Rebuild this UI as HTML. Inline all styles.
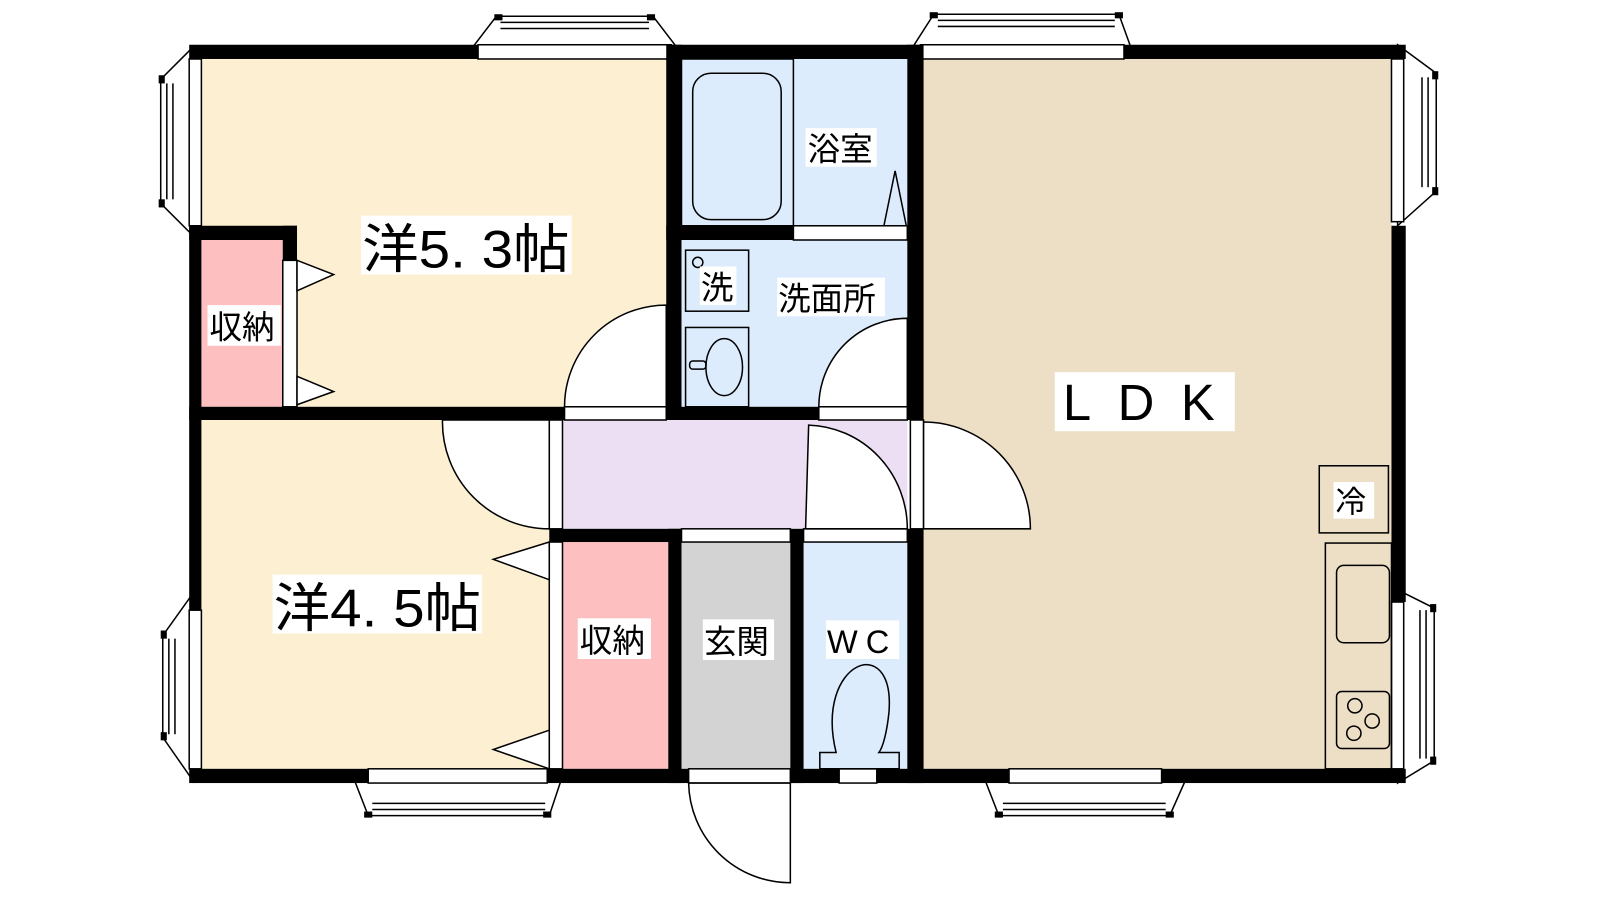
<!DOCTYPE html>
<html><head><meta charset="utf-8"><style>
html,body{margin:0;padding:0;background:#fff;width:1600px;height:900px;overflow:hidden}
svg{display:block}
text{font-family:"Liberation Sans","Noto Sans CJK JP",sans-serif;fill:#000}
</style></head><body>
<svg width="1600" height="900" viewBox="0 0 1573 885" preserveAspectRatio="none" xmlns="http://www.w3.org/2000/svg">
<rect x="198" y="58" width="459" height="342" fill="#fdf0d2"/>
<rect x="198" y="236" width="80" height="164" fill="#fdbfbf"/>
<rect x="198" y="413" width="342" height="343" fill="#fdf0d2"/>
<rect x="670" y="58" width="222" height="342" fill="#dcecfc"/>
<rect x="553" y="413" width="339" height="107" fill="#ecdff4"/>
<rect x="553" y="533" width="104" height="223" fill="#fdbfbf"/>
<rect x="670" y="533" width="107" height="223" fill="#d3d3d3"/>
<rect x="790" y="533" width="102" height="223" fill="#dcecfc"/>
<rect x="908" y="58" width="460" height="698" fill="#eddfc5"/>

<g fill="#fff" stroke="#000" stroke-width="1.5">
<polygon points="462,50 488,16 642,16 668,50"/>
<line x1="492" y1="22" x2="638" y2="22"/><line x1="492" y1="28" x2="638" y2="28"/>
<rect x="470" y="44" width="190" height="14"/>
<polygon points="895,50 918,14 1100,14 1113,50"/>
<line x1="922" y1="20" x2="1096" y2="20"/><line x1="922" y1="26" x2="1096" y2="26"/>
<rect x="905" y="44" width="200" height="14"/>
<polygon points="190,46 158,78 158,200 190,232"/>
<line x1="164" y1="82" x2="164" y2="196"/><line x1="170" y1="82" x2="170" y2="196"/>
<rect x="186" y="58" width="12" height="164"/>
<polygon points="190,583 160,625 160,725 190,768"/>
<line x1="166" y1="628" x2="166" y2="722"/><line x1="172" y1="628" x2="172" y2="722"/>
<rect x="186" y="600" width="12" height="156"/>
<polygon points="348,766 362,802 540,802 552,766"/>
<line x1="366" y1="790" x2="536" y2="790"/><line x1="366" y1="796" x2="536" y2="796"/>
<rect x="362" y="756" width="176" height="14"/>
<polygon points="968,766 982,802 1150,802 1166,766"/>
<line x1="986" y1="790" x2="1146" y2="790"/><line x1="986" y1="796" x2="1146" y2="796"/>
<rect x="992" y="756" width="150" height="14"/>
<polygon points="1374,44 1412,72 1412,188 1374,222"/>
<line x1="1404" y1="76" x2="1404" y2="184"/><line x1="1398" y1="76" x2="1398" y2="184"/>
<rect x="1368" y="58" width="12" height="160"/>
<polygon points="1374,580 1410,598 1410,748 1374,770"/>
<line x1="1402" y1="600" x2="1402" y2="746"/><line x1="1396" y1="600" x2="1396" y2="746"/>
<rect x="1368" y="592" width="12" height="164"/>
</g>
<g fill="#000">
<rect x="486" y="14" width="8" height="6"/><rect x="636" y="14" width="8" height="6"/>
<rect x="914" y="12" width="8" height="6"/><rect x="1096" y="12" width="8" height="6"/>
<rect x="156" y="74" width="6" height="8"/><rect x="156" y="196" width="6" height="8"/>
<rect x="158" y="620" width="6" height="8"/><rect x="158" y="720" width="6" height="8"/>
<rect x="358" y="798" width="8" height="6"/><rect x="534" y="798" width="8" height="6"/>
<rect x="978" y="798" width="8" height="6"/><rect x="1146" y="798" width="8" height="6"/>
<rect x="1408" y="70" width="6" height="8"/><rect x="1408" y="184" width="6" height="8"/>
<rect x="1406" y="594" width="6" height="8"/><rect x="1406" y="744" width="6" height="8"/>
</g>

<g fill="#000">
<rect x="186" y="44" width="284" height="14"/>
<rect x="660" y="44" width="245" height="14"/>
<rect x="1105" y="44" width="277" height="14"/>
<rect x="186" y="222" width="106" height="14"/>
<rect x="278" y="222" width="14" height="34"/>
<rect x="186" y="222" width="12" height="378"/>
<rect x="186" y="400" width="369" height="13"/>
<rect x="655" y="44" width="15" height="369"/>
<rect x="655" y="222" width="125" height="14"/>
<rect x="655" y="400" width="150" height="13"/>
<rect x="892" y="44" width="16" height="369"/>
<rect x="892" y="520" width="16" height="250"/>
<rect x="540" y="520" width="130" height="13"/>
<rect x="657" y="520" width="13" height="250"/>
<rect x="777" y="520" width="13" height="250"/>
<rect x="186" y="756" width="176" height="14"/>
<rect x="538" y="756" width="139" height="14"/>
<rect x="777" y="756" width="48" height="14"/>
<rect x="862" y="756" width="130" height="14"/>
<rect x="1142" y="756" width="240" height="14"/>
<rect x="1368" y="222" width="14" height="370"/>
</g>

<g fill="#fff" stroke="#000" stroke-width="1.5">
<rect x="555" y="400" width="100" height="13"/>
<rect x="805" y="400" width="87" height="13"/>
<rect x="780" y="222" width="112" height="14"/>
<rect x="670" y="520" width="107" height="13"/>
<rect x="790" y="520" width="102" height="13"/>
<rect x="677" y="756" width="100" height="14"/>
<rect x="825" y="756" width="37" height="14"/>
<rect x="540" y="413" width="13" height="107"/>
<rect x="895" y="413" width="13" height="107"/>
<rect x="278" y="256" width="14" height="144"/>
<rect x="540" y="533" width="13" height="223"/>
<path d="M555,400 A100,100 0 0 1 655,300 L655,400 Z"/>
<path d="M805,400 A87,87 0 0 1 892,313 L892,400 Z"/>
<path d="M435,413 A105,105 0 0 0 540,520 L540,413 Z"/>
<path d="M792,520 L795,418 A100,102 0 0 1 892,520 Z"/>
<path d="M908,520 L908,415 A105,105 0 0 1 1013,520 Z"/>
<path d="M677,770 A100,100 0 0 0 777,868 L777,770 Z"/>
<polygon points="292,256 328,270 292,286"/>
<polygon points="292,370 328,385 292,398"/>
<polygon points="540,533 485,550 540,570"/>
<polygon points="540,718 485,737 540,756"/>
</g>

<g fill="none" stroke="#000" stroke-width="1.5">
<rect x="670" y="58" width="110" height="164"/>
<rect x="681" y="72" width="87" height="144" rx="18"/>
<polygon points="869,222 880,168 891,222"/>
<rect x="674" y="246" width="62" height="60"/>
<circle cx="686" cy="258" r="5"/>
<rect x="674" y="322" width="62" height="78"/>
<ellipse cx="712" cy="361" rx="18" ry="28"/>
<rect x="678" y="355" width="16" height="8" rx="3"/>
<path d="M822,740 C800,650 880,620 874,700 C872,720 868,735 864,740 L884,740 L884,756 L806,756 L806,740 Z"/>
<rect x="1297" y="458" width="68" height="66"/>
<rect x="1303" y="534" width="65" height="222"/>
<rect x="1314" y="556" width="52" height="76" rx="7"/>
<rect x="1314" y="680" width="52" height="56" rx="5"/>
<circle cx="1332" cy="694" r="7"/><circle cx="1349" cy="709" r="7"/><circle cx="1331" cy="721" r="7"/>
</g>

<g>
<rect x="355" y="212" width="207" height="58" fill="#fff"/>
<text x="356" y="263" font-size="52" textLength="204" lengthAdjust="spacingAndGlyphs">洋5. 3帖</text>
<rect x="268" y="565" width="206" height="58" fill="#fff"/>
<text x="269" y="616" font-size="52" textLength="204" lengthAdjust="spacingAndGlyphs">洋4. 5帖</text>
<rect x="204" y="300" width="72" height="40" fill="#fff"/>
<text x="206" y="333" font-size="32">収納</text>
<rect x="568" y="608" width="72" height="40" fill="#fff"/>
<text x="570" y="641" font-size="32">収納</text>
<rect x="691" y="609" width="70" height="40" fill="#fff"/>
<text x="692" y="642" font-size="32">玄関</text>
<rect x="812" y="610" width="72" height="38" fill="#fff"/>
<text x="813" y="642" font-size="32" letter-spacing="8">WC</text>
<rect x="792" y="126" width="70" height="38" fill="#fff"/>
<text x="794" y="158" font-size="32">浴室</text>
<rect x="764" y="273" width="106" height="38" fill="#fff"/>
<text x="765" y="305" font-size="32">洗面所</text>
<rect x="688" y="262" width="36" height="38" fill="#fff"/>
<text x="689" y="294" font-size="32">洗</text>
<rect x="1037" y="366" width="177" height="58" fill="#fff"/>
<text x="1045" y="413" font-size="50" letter-spacing="26">LDK</text>
<rect x="1311" y="474" width="40" height="36" fill="#fff"/>
<text x="1313" y="504" font-size="30">冷</text>
</g>
</svg>
</body></html>
